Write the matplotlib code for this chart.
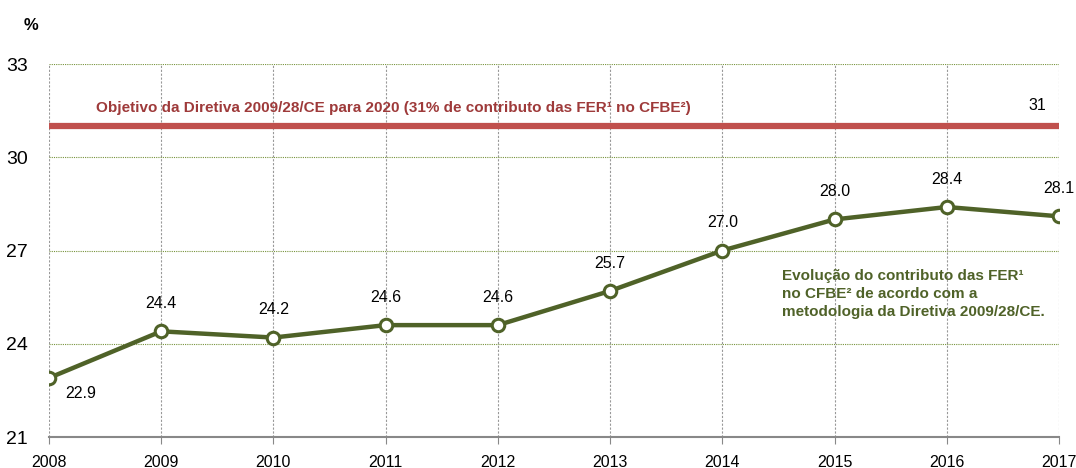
import matplotlib.pyplot as plt

anos = [2008, 2009, 2010, 2011, 2012, 2013, 2014, 2015, 2016, 2017]
fer = [22.9, 24.4, 24.2, 24.6, 24.6, 25.7, 27.0, 28.0, 28.4, 28.1]
objetivo = 31
yticks = [21, 24, 27, 30, 33]

plt.rcParams["font.family"] = ["Liberation Sans", "DejaVu Sans"]

verde = "#4F6228"
vermelho = "#C0504D"

fig = plt.figure(figsize=(10.76, 4.68), dpi=100)
ax = fig.add_axes([0.0455, 0.0662, 0.9387, 0.797])

ax.axhline(objetivo, color=vermelho, lw=4.5, zorder=2)
ax.plot(anos, fer, color=verde, lw=3.2, marker="o", markersize=9,
        markerfacecolor="white", markeredgecolor=verde, markeredgewidth=2.2, zorder=4)

for i, (a, v) in enumerate(zip(anos, fer)):
    if i == 0:
        ax.annotate(f"{v:.1f}", (a, v), xytext=(12, -11), textcoords="offset points",
                    ha="left", va="center", fontsize=11.5)
    else:
        ax.annotate(f"{v:.1f}", (a, v), xytext=(0, 20), textcoords="offset points",
                    ha="center", va="center", fontsize=11.5)

ax.annotate("31", (2017, objetivo), xytext=(-9, 15), textcoords="offset points",
            ha="right", va="center", fontsize=11.5)
ax.text(2008.42, objetivo + 0.6,
        "Objetivo da Diretiva 2009/28/CE para 2020 (31% de contributo das FER¹ no CFBE²)",
        ha="left", va="center", fontsize=11, fontweight="bold", color="#9E3A3A")
ax.text(2014.53, 25.6,
        "Evolução do contributo das FER¹\nno CFBE² de acordo com a\nmetodologia da Diretiva 2009/28/CE.",
        ha="left", va="center", fontsize=11, fontweight="bold", color=verde,
        linespacing=1.35)

ax.set_xlim(2008, 2017)
ax.set_ylim(21, 33)
ax.set_xticks(anos)
ax.set_yticks(yticks)
ax.tick_params(axis="y", length=0, labelsize=14, pad=15)
ax.tick_params(axis="x", length=5, color="#888888", labelsize=11.5, pad=8)
for s in ["top", "right", "left"]:
    ax.spines[s].set_visible(False)
ax.spines["bottom"].set_color("#888888")
ax.spines["bottom"].set_linewidth(1.5)

ax.grid(axis="x", color="#999999", linestyle=(0, (2, 1.5)), lw=0.8, zorder=0)
ax.grid(axis="y", color="#77933C", linestyle=(0, (1, 1)), lw=0.8, zorder=0)
ax.set_axisbelow(True)

fig.text(0.022, 0.945, "%", fontsize=12, fontweight="bold", ha="left", va="center")

fig.savefig("out.png", dpi=100)
